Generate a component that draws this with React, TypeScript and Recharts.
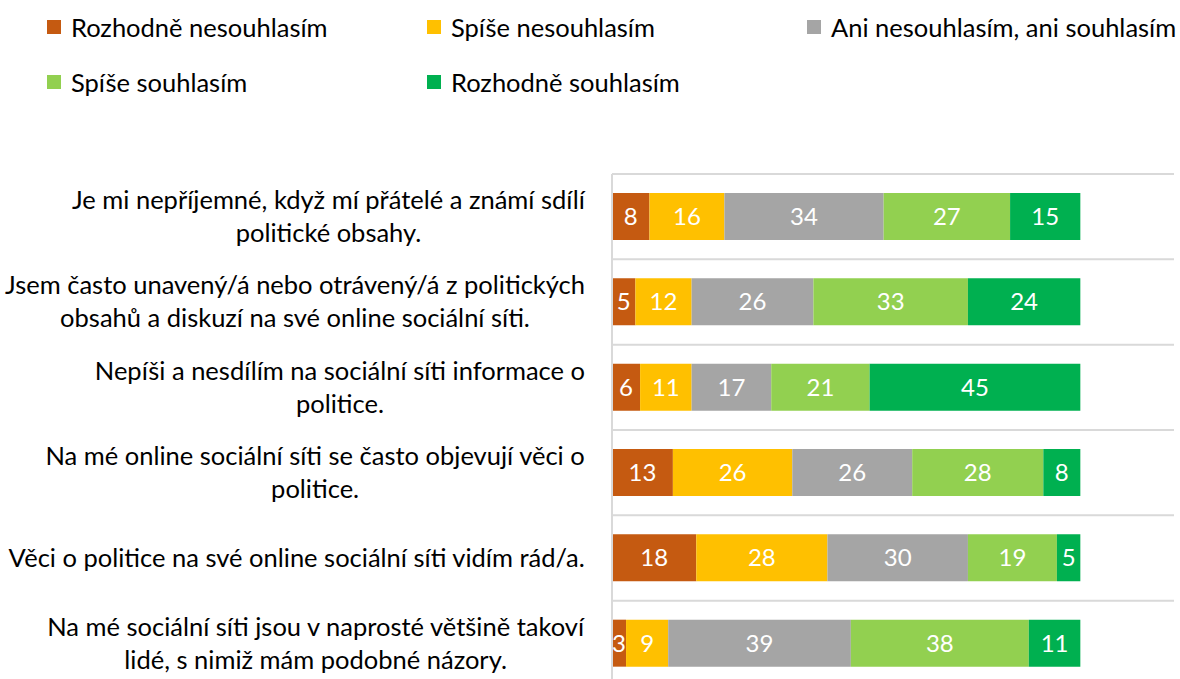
import React from 'react';
import { BarChart, Bar, XAxis, YAxis, CartesianGrid, LabelList } from 'recharts';

const categories = [
  'Je mi nepříjemné, když mí přátelé a známí sdílí\npolitické obsahy.',
  'Jsem často unavený/á nebo otrávený/á z politických\nobsahů a diskuzí na své online sociální síti.',
  'Nepíši a nesdílím na sociální síti informace o\npolitice.',
  'Na mé online sociální síti se často objevují věci o\npolitice.',
  'Věci o politice na své online sociální síti vidím rád/a.',
  'Na mé sociální síti jsou v naprosté většině takoví\nlidé, s nimiž mám podobné názory.',
];

const seriesNames = [
  'Rozhodně nesouhlasím',
  'Spíše nesouhlasím',
  'Ani nesouhlasím, ani souhlasím',
  'Spíše souhlasím',
  'Rozhodně souhlasím',
];
const seriesColors = ['#C55A11', '#FFC000', '#A5A5A5', '#92D050', '#00B050'];

// shares in %, labels show rounded values
const rozhodneNe = [8, 5, 6, 13, 18, 3];
const spiseNe = [16, 12, 11, 25.5, 28, 9];
const ani = [34, 26, 17, 25.6, 30, 39];
const spiseAno = [27, 33, 21, 28, 19, 38];
const rozhodneAno = [15, 24, 45, 7.9, 5, 11];

const seriesValues = [rozhodneNe, spiseNe, ani, spiseAno, rozhodneAno];

const data = categories.map((name, i) => {
  const row: Record<string, any> = { name };
  seriesValues.forEach((vals, s) => { row['s' + s] = vals[i]; });
  return row;
});

const FONT = 'Lato, sans-serif';
const FONT_SIZE = 25.5;

let ctx: CanvasRenderingContext2D | null = null;
const measure = (t: string) => {
  if (!ctx) ctx = document.createElement('canvas').getContext('2d');
  if (!ctx) return t.length * 11.5;
  ctx.font = `${FONT_SIZE}px Lato`;
  return ctx.measureText(t).width;
};

// multi-line label, lines centred, block right-aligned next to the axis
const CategoryTick = ({ x, y, payload }: any) => {
  const lines: string[] = String(payload.value).split('\n');
  const maxW = Math.max(...lines.map(measure));
  const cx = x - 19 - maxW / 2;
  const lh = 33;
  const startY = y - ((lines.length - 1) * lh) / 2;
  return (
    <text x={cx} y={startY} textAnchor="middle" fill="#000" fontSize={FONT_SIZE} fontFamily={FONT}>
      {lines.map((l, i) => (
        <tspan key={i} x={cx} y={startY + i * lh} dy="0.35em">{l}</tspan>
      ))}
    </text>
  );
};

const Legend = () => (
  <div style={{ position: 'absolute', left: 47, top: 12, width: 1140, fontFamily: FONT, fontSize: FONT_SIZE, color: '#000' }}>
    {seriesNames.map((n, i) => (
      <div key={n} style={{ position: 'absolute', left: (i % 3) * 380, top: Math.floor(i / 3) * 55, display: 'flex', alignItems: 'center', whiteSpace: 'nowrap' }}>
        <span style={{ width: 14, height: 14, background: seriesColors[i], marginRight: 10, display: 'inline-block' }} />
        <span>{n}</span>
      </div>
    ))}
  </div>
);

export default function App() {
  return (
    <div style={{ position: 'absolute', left: 0, top: 0, width: 1180, height: 679, overflow: 'hidden', background: '#fff' }}>
      <Legend />
      <BarChart
        width={1180}
        height={700}
        data={data}
        layout="vertical"
        margin={{ top: 174, right: 6, bottom: 14, left: 0 }}
        barSize={47}
        style={{ position: 'absolute', left: 0, top: 0 }}
      >
        <CartesianGrid
          vertical={false}
          stroke="#d9d9d9"
          strokeWidth={2}
          horizontalCoordinatesGenerator={({ offset }: any) =>
            Array.from({ length: categories.length + 1 }, (_, i) => offset.top + (i * offset.height) / categories.length)
          }
        />
        <XAxis type="number" domain={[0, 120]} hide />
        <YAxis
          type="category"
          dataKey="name"
          width={612}
          axisLine={{ stroke: '#d9d9d9', strokeWidth: 2 }}
          tickLine={false}
          tick={<CategoryTick />}
          interval={0}
        />
        {seriesNames.map((n, s) => (
          <Bar key={n} dataKey={'s' + s} name={n} stackId="a" fill={seriesColors[s]} isAnimationActive={false}>
            <LabelList
              dataKey={'s' + s}
              position="center"
              fill="#fff"
              fontSize={24}
              fontFamily={FONT}
              formatter={(v: any) => Math.round(Number(v))}
            />
          </Bar>
        ))}
      </BarChart>
    </div>
  );
}
